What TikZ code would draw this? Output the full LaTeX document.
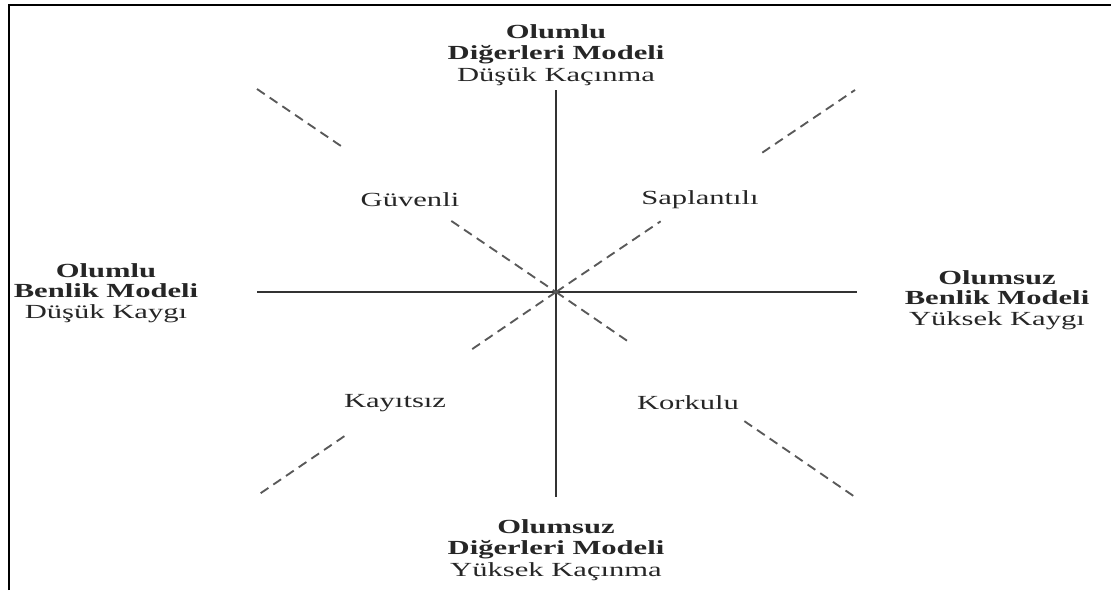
\documentclass[tikz,border=0pt]{standalone}
\usepackage{fontspec}
\setmainfont{Liberation Serif}[FakeStretch=1.53]
\usetikzlibrary{calc}
\begin{document}
\begin{tikzpicture}[x=0.75pt,y=-0.75pt,
  axis/.style={line width=1.3pt,black!80},
  dsh/.style={line width=1.4pt,black!65,dash pattern=on 7pt off 4.5pt},
  lbl/.style={align=center,inner sep=0pt,text=black!85,font=\fontsize{15}{15.2}\selectfont},
  tlbl/.style={lbl,font=\fontsize{15}{16}\selectfont},
  frame/.style={line width=1.5pt,black}]
\useasboundingbox (0,0) rectangle (1111,590);
\draw[frame] (9,590) -- (9,5) -- (1111,5);
\coordinate (C) at (556,292);
\coordinate (T) at (556,90);
\coordinate (B) at (556,497);
\coordinate (L) at (257,292);
\coordinate (R) at (857,292);
\coordinate (TL) at (257,89);
\coordinate (TR) at (855,90);
\coordinate (BL) at (258,495);
\coordinate (BR) at (855,497);
\draw[axis] (T) -- (B);
\draw[axis] (L) -- (R);
\draw[dsh] (TL) -- ($(TL)!0.29!(C)$);
\draw[dsh] ($(TL)!0.65!(C)$) -- (C);
\draw[dsh] (C) -- ($(C)!0.35!(TR)$);
\draw[dsh] ($(C)!0.69!(TR)$) -- (TR);
\draw[dsh] (C) -- ($(C)!0.29!(BL)$);
\draw[dsh] ($(C)!0.71!(BL)$) -- (BL);
\draw[dsh] (C) -- ($(C)!0.25!(BR)$);
\draw[dsh] ($(C)!0.63!(BR)$) -- (BR);
\node[tlbl] (top) at (556,55) {\textbf{Olumlu}\\\textbf{Diğerleri Modeli}\\Düşük Kaçınma};
\node[tlbl] (bot) at (556,550) {\textbf{Olumsuz}\\\textbf{Diğerleri Modeli}\\Yüksek Kaçınma};
\node[lbl] (lft) at (106,293) {\textbf{Olumlu}\\\textbf{Benlik Modeli}\\Düşük Kaygı};
\node[lbl] (rgt) at (997,300) {\textbf{Olumsuz}\\\textbf{Benlik Modeli}\\Yüksek Kaygı};
\node[lbl] (g) at (410,200) {Güvenli};
\node[lbl] (s) at (700,200) {Saplantılı};
\node[lbl] (k) at (395,403) {Kayıtsız};
\node[lbl] (ko) at (688,403) {Korkulu};
\end{tikzpicture}
\end{document}
